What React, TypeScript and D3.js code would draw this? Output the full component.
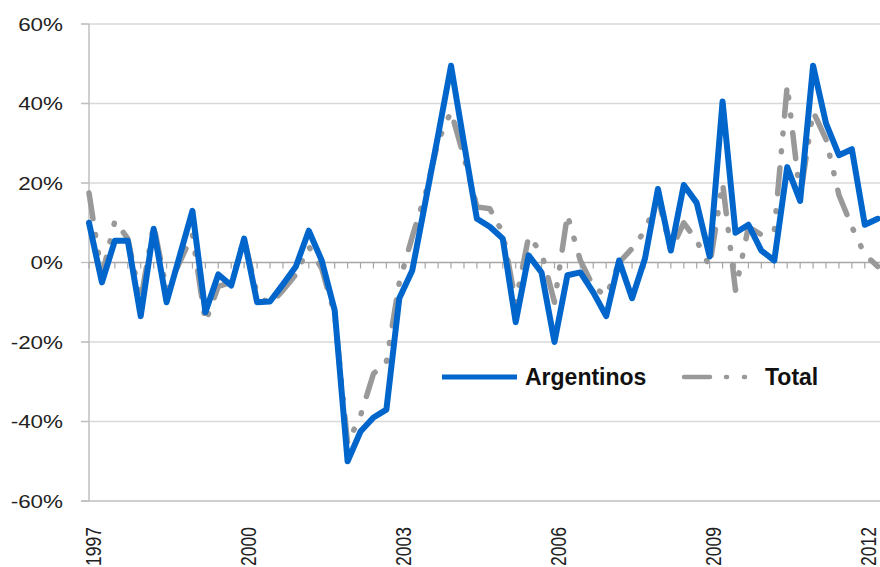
import React from "react";
import * as d3 from "d3";

// quarterly, 1997Q1 .. 2012Q2 (yoy change, %)
const argentinos = [
  10, -5, 5.5, 5.5, -13.5, 8.5, -10, 1.5, 13, -12.5, -3, -5.8, 6, -10, -9.8, -5.5,
  -1, 8, 0.5, -12, -50, -42.5, -39, -37, -9, -2, 15, 32, 49.5, 30, 11, 9,
  6, -15, 1.8, -2.5, -20, -3.2, -2.5, -7.5, -13.5, 0.5, -9, 1, 18.5, 3, 19.5, 15,
  1.5, 40.5, 7.5, 9.5, 3, 0.5, 24, 15.5, 49.5, 35, 27, 28.5, 9.5, 11
];
const total = [
  17.5, -3.5, 10.5, 6, -9.5, 9.5, -7, 0, 7, -15, -6, -5, 6, -8, -10.5, -7,
  -3, 4, -1.5, -13, -45.5, -38.5, -28, -25, -5, 6.5, 17, 30.5, 38, 26.5, 14, 13.5,
  7.5, -10, 6.5, 2.5, -10, 12, 0.5, -6, -8.5, 0, 3.5, 8, 16.5, 3, 10, 5.5,
  -1, 20, -7, 9, 7, 8, 44.5, 16.5, 38, 31, 17, 9, 2, -1
];
const yTicks = [-60, -40, -20, 0, 20, 40, 60];
const yearLabels = ["1997", "2000", "2003", "2006", "2009", "2012"];
const seriesNames = ["Argentinos", "Total"];

const W = 880;
const H = 567;
const BLUE = "#0066cc";
const GRAY = "#999999";
const FONT = "'Liberation Sans', Arial, sans-serif";

export default function App() {
  const n = argentinos.length;
  const x = d3.scaleLinear().domain([0, n - 1]).range([89, 89 + (n - 1) * 12.93]);
  const y = d3.scaleLinear().domain([-60, 60]).range([501, 24]);

  const line = d3
    .line<number>()
    .x((d, i) => x(i))
    .y((d) => y(d));

  const quarters = d3.range(0, n + 1);

  return (
    <svg
      width={W}
      height={H}
      style={{ position: "absolute", left: 0, top: 0, background: "#fff" }}
    >
      <rect width={W} height={H} fill="#fff" />
      {/* grid */}
      {yTicks.map((t) => (
        <g key={t}>
          {t !== 0 && (
            <line
              x1={81}
              x2={W}
              y1={y(t)}
              y2={y(t)}
              stroke={t === -60 ? "#bfbfbf" : "#d9d9d9"}
              strokeWidth={1.3}
            />
          )}
          <line x1={81} x2={89} y1={y(t)} y2={y(t)} stroke="#bfbfbf" strokeWidth={1.3} />
          <g transform={`translate(63,${y(t)}) scale(1.18,1)`}>
            <text
              textAnchor="end"
              dy="0.36em"
              fontFamily={FONT}
              fontSize={19}
              fill="#222"
            >
              {t + "%"}
            </text>
          </g>
        </g>
      ))}
      {/* value axis */}
      <line x1={89} x2={89} y1={y(60)} y2={y(-60)} stroke="#bfbfbf" strokeWidth={1.5} />
      {/* category axis at 0 */}
      <line x1={89} x2={W} y1={y(0)} y2={y(0)} stroke="#a6a6a6" strokeWidth={1.3} />
      {quarters.map((q) => (
        <line
          key={q}
          x1={x(q)}
          x2={x(q)}
          y1={y(0)}
          y2={y(0) + 6}
          stroke="#a6a6a6"
          strokeWidth={1.2}
        />
      ))}
      {yearLabels.map((lab, k) => (
        <text
          key={lab}
          transform={`translate(${x(k * 12) + 11.5},527) rotate(-90) scale(1,1.3)`}
          textAnchor="end"
          fontFamily={FONT}
          fontSize={17.5}
          fill="#222"
        >
          {lab}
        </text>
      ))}
      {/* series */}
      <path
        d={line(total) || ""}
        fill="none"
        stroke={GRAY}
        strokeWidth={5.5}
        strokeLinecap="round"
        strokeLinejoin="round"
        strokeDasharray="26 16 1 17 1 17"
      />
      <path
        d={line(argentinos) || ""}
        fill="none"
        stroke={BLUE}
        strokeWidth={6}
        strokeLinejoin="round"
        strokeLinecap="round"
      />
      {/* legend */}
      <line x1={442} x2={517} y1={377} y2={377} stroke={BLUE} strokeWidth={5} />
      <text x={525} y={385} fontFamily={FONT} fontSize={23} fontWeight="bold" fill="#111">
        {seriesNames[0]}
      </text>
      <line
        x1={684}
        x2={760}
        y1={377}
        y2={377}
        stroke={GRAY}
        strokeWidth={4.5}
        strokeLinecap="round"
        strokeDasharray="26 16 1 17 1 17"
      />
      <text x={765} y={385} fontFamily={FONT} fontSize={23} fontWeight="bold" fill="#111">
        {seriesNames[1]}
      </text>
    </svg>
  );
}
